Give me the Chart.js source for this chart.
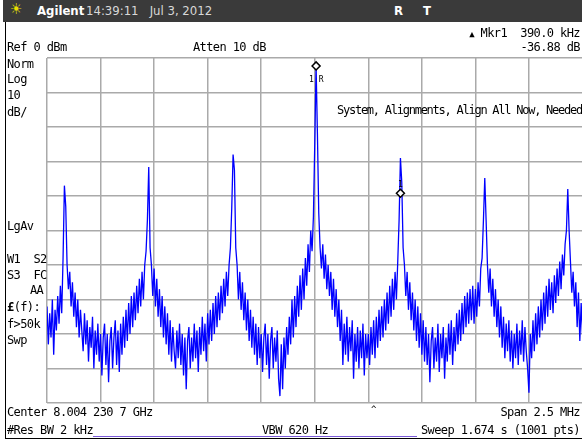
<!DOCTYPE html>
<html>
<head>
<meta charset="utf-8">
<script src="https://cdn.jsdelivr.net/npm/chart.js@4.4.1/dist/chart.umd.min.js"></script>
<style>
  body { margin: 0; background: #fff; }
  #wrap { position: relative; width: 582px; height: 439px; overflow: hidden; }
  #chart { position: absolute; left: 0; top: 0; }
  .t { position: absolute; font-family: "DejaVu Sans Mono", monospace; font-size: 12px;
       letter-spacing: -0.6px; line-height: 14px; color: #000; white-space: pre; }
  .r { text-align: right; }
  #bar { position: absolute; left: 3px; top: 0; width: 579px; height: 22px; background: #3a3a3a; }
  .h { position: absolute; top: 3px; font-family: "Liberation Sans Narrow", "DejaVu Sans Condensed", "Liberation Sans", sans-serif;
       font-size: 13px; line-height: 16px; color: #d8d8d8; white-space: pre; }
</style>
</head>
<body>
<div id="wrap">
  <canvas id="chart" width="588" height="439"></canvas>
  <div id="bar"></div>
  <div class="h" style="left:10px;top:1px;color:#e8e000;font-size:15px;">&#9728;</div>
  <div class="h" style="left:37px;color:#fff;font-weight:bold;">Agilent</div>
  <div class="h" style="left:86px;">14:39:11&nbsp;&nbsp;&nbsp;Jul 3, 2012</div>
  <div class="h" style="left:394px;color:#fff;font-weight:bold;">R</div>
  <div class="h" style="left:423px;color:#fff;font-weight:bold;">T</div>

  <div class="t r" style="right:2px;top:26px;"><span style="font-size:9px;">&#9650;</span> Mkr1  390.0 kHz</div>
  <div class="t" style="left:7px;top:40px;">Ref 0 dBm</div>
  <div class="t" style="left:193px;top:40px;">Atten 10 dB</div>
  <div class="t r" style="right:2px;top:40px;">-36.88 dB</div>

  <div class="t" style="left:7px;top:57px;">Norm</div>
  <div class="t" style="left:7px;top:72px;">Log</div>
  <div class="t" style="left:7px;top:88px;">10</div>
  <div class="t" style="left:7px;top:105px;">dB/</div>
  <div class="t" style="left:7px;top:219px;">LgAv</div>
  <div class="t" style="left:7px;top:252px;">W1  S2</div>
  <div class="t" style="left:7px;top:268px;">S3  FC</div>
  <div class="t" style="left:30px;top:283px;">AA</div>
  <div class="t" style="left:7px;top:300px;"><b>&pound;</b>(f):</div>
  <div class="t" style="left:7px;top:317px;">f&gt;50k</div>
  <div class="t" style="left:7px;top:333px;">Swp</div>

  <div class="t" style="left:337px;top:103px;letter-spacing:-1.25px;">System, Alignments, Align All Now, Needed</div>
  <div class="t" style="left:309px;top:75px;font-size:8px;letter-spacing:0;line-height:9px;">1 R</div>
  <div class="t" style="left:398px;top:180px;font-size:8px;letter-spacing:0;line-height:9px;">1</div>

  <div class="t" style="left:371px;top:402px;font-size:9px;">^</div>
  <div class="t" style="left:7px;top:405px;">Center 8.004 230 7 GHz</div>
  <div class="t r" style="right:2px;top:405px;">Span 2.5 MHz</div>
  <div class="t" style="left:7px;top:423px;">#Res BW 2 kHz</div>
  <div class="t" style="left:262px;top:423px;">VBW 620 Hz</div>
  <div class="t r" style="right:2px;top:423px;">Sweep 1.674 s (1001 pts)</div>

  <div style="position:absolute;left:93px;top:436px;width:324px;height:1px;background:#7a5ad8;"></div>
  <div style="position:absolute;left:5px;top:22px;width:1px;height:417px;background:#000;"></div>
  <div style="position:absolute;left:5px;top:438px;width:577px;height:1px;background:#000;"></div>
</div>
<script>
// sweep: offset from center frequency, MHz
const START_MHZ = -1.25;
const STEP_MHZ = 0.00625;

// trace levels in dBm
const levels = [
  -72, -83, -74, -81, -70, -86, -73, -79, -69, -77,
  -66, -74, -58, -37, -43, -60, -67, -62, -72, -65,
  -75, -68, -78, -70, -81, -73, -79, -85, -74, -83,
  -76, -88, -78, -84, -75, -90, -79, -86, -77, -88,
  -80, -92, -81, -77, -89, -80, -94, -82, -78, -90,
  -81, -76, -89, -79, -91, -77, -86, -75, -84, -73,
  -82, -71, -80, -69, -78, -68, -76, -66, -74, -64,
  -72, -62, -70, -60, -56, -47, -31.6, -55, -60, -69,
  -61, -72, -64, -75, -67, -78, -69, -81, -72, -83,
  -74, -86, -76, -88, -78, -85, -90, -79, -87, -77,
  -89, -80, -92, -81, -96, -82, -78, -90, -81, -88,
  -77, -87, -79, -91, -78, -86, -75, -85, -77, -88,
  -74, -83, -73, -82, -71, -80, -69, -78, -68, -76,
  -66, -74, -64, -72, -62, -69, -60, -55, -43.5, -28,
  -32.5, -55, -60, -70, -62, -73, -65, -76, -68, -79,
  -70, -82, -73, -84, -75, -86, -77, -89, -78, -87,
  -80, -91, -81, -77, -89, -80, -93, -82, -78, -90,
  -81, -88, -79, -93, -98, -83, -96, -81, -90, -78,
  -86, -75, -83, -70, -81, -69, -78, -66, -75, -63,
  -73, -61, -70, -58, -66, -54, -62, -50, -56, -46,
  -25, -2.3, -22, -45, -55, -61, -54, -64, -57, -67,
  -60, -69, -62, -73, -64, -75, -67, -78, -70, -82,
  -73, -89, -77, -86, -75, -88, -78, -85, -76, -93,
  -80, -88, -78, -90, -79, -87, -77, -92, -80, -87,
  -80, -89, -78, -86, -76, -87, -75, -84, -73, -82,
  -72, -81, -70, -79, -68, -77, -66, -75, -64, -73,
  -62, -70, -59, -47, -29, -36, -55, -60, -69, -62,
  -73, -65, -76, -68, -79, -70, -82, -72, -84, -74,
  -86, -76, -88, -78, -89, -80, -94, -82, -78, -90,
  -81, -88, -77, -91, -80, -87, -78, -93, -81, -88,
  -77, -86, -76, -89, -78, -85, -74, -83, -73, -82,
  -71, -80, -69, -78, -68, -77, -67, -76, -66, -77,
  -67, -75, -65, -72, -61, -58, -47, -34.8, -47, -60,
  -68, -61, -72, -64, -75, -67, -78, -70, -81, -72,
  -84, -75, -87, -77, -85, -76, -88, -79, -90, -80,
  -87, -77, -89, -79, -86, -76, -88, -78, -85, -90,
  -97, -80, -87, -76, -85, -74, -83, -72, -81, -70,
  -79, -68, -77, -66, -75, -64, -73, -65, -74, -63,
  -71, -61, -69, -59, -67, -57, -63, -54, -50, -38,
  -50, -59, -68, -62, -72, -65, -78, -68, -82, -71, -80
];

// markers: 1R reference and delta marker
const markerFreqs = [0.00625, 0.4];
const markerLevels = [-2.3, -39.2];

const trace = levels.map((v, i) => ({ x: START_MHZ + i * STEP_MHZ, y: v }));
const markers = markerFreqs.map((f, i) => ({ x: f, y: markerLevels[i] }));

new Chart(document.getElementById('chart').getContext('2d'), {
  type: 'line',
  data: {
    datasets: [
      {
        data: markers,
        showLine: false,
        pointStyle: 'rectRot',
        pointRadius: 4,
        pointBorderColor: '#000',
        pointBackgroundColor: '#fff',
        pointBorderWidth: 1.5,
        order: 0
      },
      {
        data: trace,
        borderColor: '#0000ff',
        borderWidth: 1.3,
        pointRadius: 0,
        tension: 0,
        order: 1
      }
    ]
  },
  options: {
    responsive: false,
    animation: false,
    events: [],
    layout: { padding: { left: 47, top: 58, right: 0, bottom: 36 } },
    plugins: { legend: { display: false }, tooltip: { enabled: false } },
    scales: {
      x: {
        type: 'linear',
        min: -1.25,
        max: 1.25,
        ticks: { display: false, stepSize: 0.25 },
        grid: { color: '#aaaaaa', lineWidth: 1.5, drawTicks: false },
        border: { display: false }
      },
      y: {
        min: -100,
        max: 0,
        ticks: { display: false, stepSize: 10 },
        grid: { color: '#aaaaaa', lineWidth: 1.5, drawTicks: false },
        border: { display: false }
      }
    }
  }
});
</script>
</body>
</html>
